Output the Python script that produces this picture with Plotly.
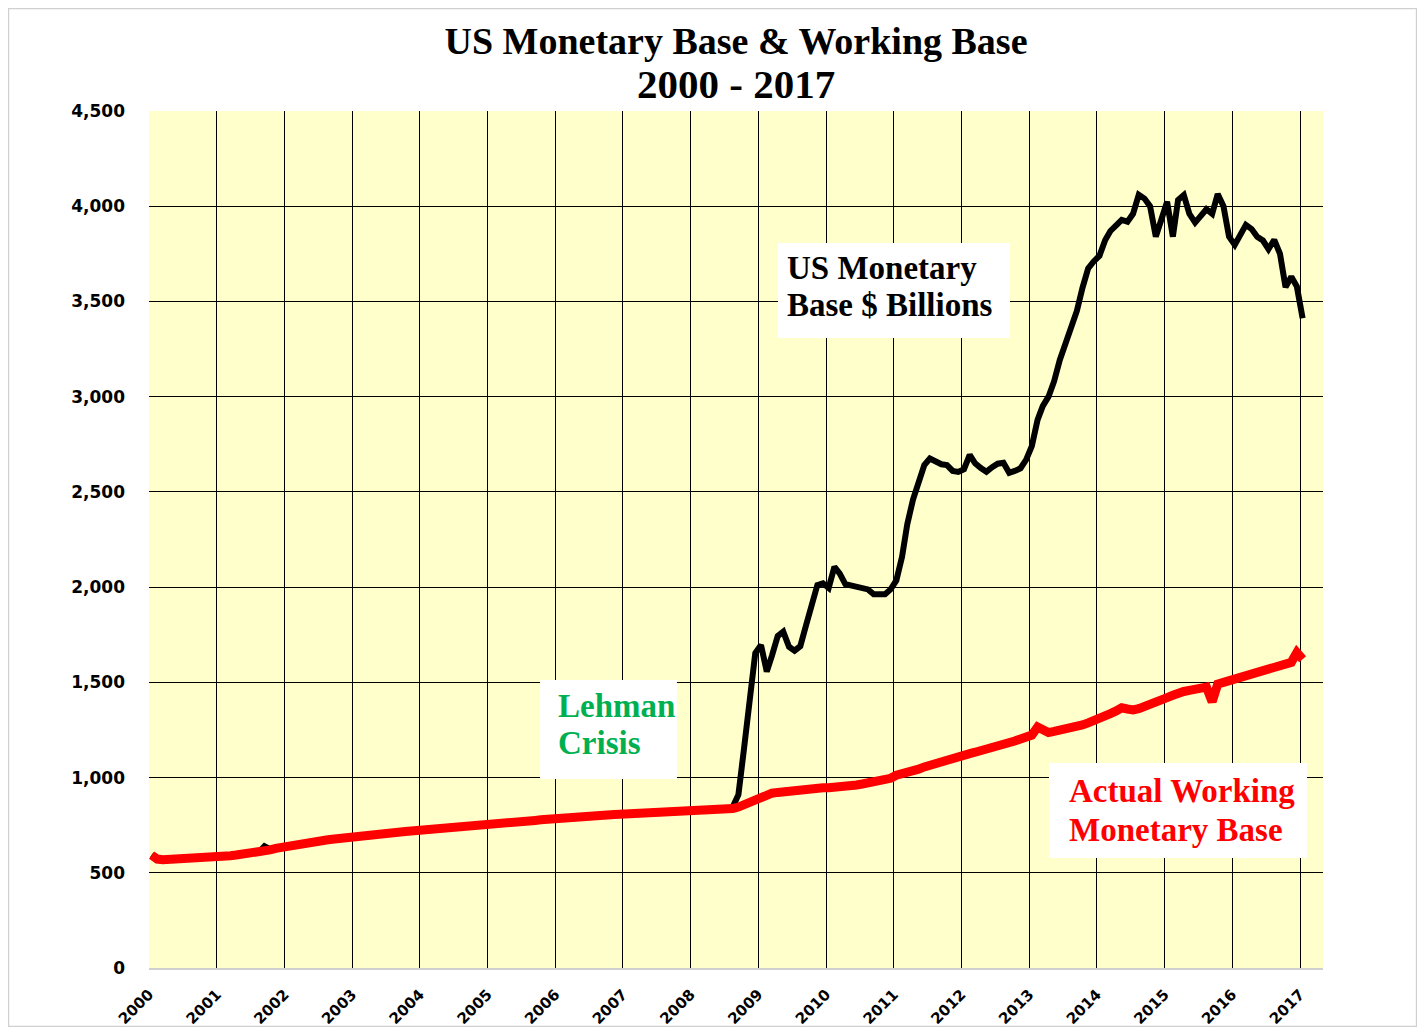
import pandas as pd
import plotly.graph_objects as go

# monthly values, Jan 2000 .. Jan 2017 ($ billions)
months = pd.date_range('2000-01-01', '2017-01-01', freq='MS') + pd.Timedelta(days=14)

monetary_base = [
    593, 572, 568, 569, 570, 571, 572, 574, 576, 578, 580, 582,          # 2000
    584, 587, 590, 593, 596, 600, 604, 608, 640, 624, 628, 634,          # 2001
    640, 645, 650, 655, 660, 664, 668, 672, 676, 680, 684, 688,          # 2002
    692, 695, 698, 701, 704, 707, 710, 713, 715, 717, 719, 721,          # 2003
    723, 725, 727, 729, 732, 735, 738, 741, 744, 747, 750, 753,          # 2004
    755, 757, 759, 761, 763, 766, 769, 772, 775, 778, 781, 784,          # 2005
    787, 789, 791, 793, 795, 797, 799, 801, 803, 804, 806, 807,          # 2006
    808, 809, 810, 811, 812, 813, 814, 815, 816, 818, 819, 820,          # 2007
    822, 823, 824, 826, 828, 830, 833, 845, 910, 1150, 1420, 1654,       # 2008
    1696, 1556, 1640, 1743, 1766, 1687, 1666, 1690, 1800, 1920, 2011, 2020,  # 2009
    1995, 2107, 2072, 2015, 2008, 1998, 1994, 1988, 1962, 1959, 1962, 1988,  # 2010
    2035, 2160, 2330, 2460, 2540, 2641, 2675, 2660, 2645, 2641, 2610, 2605,  # 2011
    2619, 2694, 2650, 2625, 2606, 2630, 2648, 2653, 2600, 2610, 2624, 2668,  # 2012
    2740, 2878, 2950, 3000, 3080, 3193, 3280, 3368, 3450, 3570, 3674, 3710,  # 2013
    3740, 3823, 3870, 3900, 3928, 3919, 3960, 4060, 4040, 4000, 3840, 3930,  # 2014
    4024, 3840, 4033, 4059, 3960, 3914, 3954, 3984, 3960, 4064, 4000, 3840,  # 2015
    3797, 3858, 3902, 3880, 3840, 3820, 3775, 3823, 3750, 3575, 3630, 3578,  # 2016
    3412,                                                                  # 2017
]

working_base = [
    593, 572, 568, 569, 570, 571, 572, 574, 576, 578, 580, 582,          # 2000
    584, 587, 590, 593, 596, 600, 604, 608, 613, 620, 628, 634,          # 2001
    640, 645, 650, 655, 660, 664, 668, 672, 676, 680, 684, 688,          # 2002
    692, 695, 698, 701, 704, 707, 710, 713, 715, 717, 719, 721,          # 2003
    723, 725, 727, 729, 732, 735, 738, 741, 744, 747, 750, 753,          # 2004
    755, 757, 759, 761, 763, 766, 769, 772, 775, 778, 781, 784,          # 2005
    787, 789, 791, 793, 795, 797, 799, 801, 803, 804, 806, 807,          # 2006
    808, 809, 810, 811, 812, 813, 814, 815, 816, 818, 819, 820,          # 2007
    822, 823, 824, 826, 828, 830, 833, 837, 845, 858, 875, 892,          # 2008
    905, 912, 918, 922, 926, 931, 936, 940, 942, 944, 945, 946,          # 2009
    947, 948, 951, 955, 958, 961, 966, 970, 974, 979, 987, 996,          # 2010
    1012, 1018, 1025, 1034, 1044, 1056, 1066, 1075, 1085, 1094, 1101, 1108,  # 2011
    1118, 1126, 1133, 1140, 1148, 1156, 1163, 1171, 1181, 1192, 1203, 1212,  # 2012
    1223, 1265, 1248, 1236, 1242, 1247, 1252, 1258, 1266, 1276, 1287, 1297,  # 2013
    1305, 1318, 1336, 1350, 1366, 1360, 1355, 1362, 1372, 1380, 1389, 1400,  # 2014
    1420, 1432, 1445, 1452, 1458, 1462, 1466, 1475, 1398, 1491, 1500, 1508,  # 2015
    1516, 1525, 1535, 1545, 1553, 1561, 1568, 1575, 1582, 1590, 1605, 1656,  # 2016
    1621,                                                                  # 2017
]

y_ticks = [0, 500, 1000, 1500, 2000, 2500, 3000, 3500, 4000, 4500]

fig = go.Figure()

fig.add_trace(go.Scatter(
    x=months, y=monetary_base, mode='lines',
    line=dict(color='black', width=6),
    name='US Monetary Base',
))
fig.add_trace(go.Scatter(
    x=months, y=working_base, mode='lines',
    line=dict(color='#ff0000', width=9),
    name='Actual Working Monetary Base',
))

text_font = dict(family='Liberation Serif', size=33)

# white label boxes behind the text
boxes = [
    (0.5358, 0.7351, 0.7334, 0.8460),
    (0.3331, 0.2205, 0.4497, 0.3361),
    (0.7666, 0.1284, 0.9864, 0.2392),
]
for x0, y0, x1, y1 in boxes:
    fig.add_shape(type='rect', xref='paper', yref='paper', x0=x0, y0=y0, x1=x1, y1=y1,
                  fillcolor='white', line=dict(width=0), layer='above')

# one annotation per text line (tighter line spacing than plotly's <br>)
labels = [
    ('US Monetary', 0.5417, 0.8168, 'black'),
    ('Base $ Billions', 0.5417, 0.7736, 'black'),
    ('Lehman', 0.3467, 0.3057, '#00b050'),
    ('Crisis', 0.3467, 0.2625, '#00b050'),
    ('Actual Working', 0.7819, 0.2065, '#ff0000'),
    ('Monetary Base', 0.7819, 0.1610, '#ff0000'),
]
for text, x, y, color in labels:
    fig.add_annotation(text=f'<b>{text}</b>', xref='paper', yref='paper', x=x, y=y,
                       xanchor='left', yanchor='middle', align='left',
                       showarrow=False, font=dict(color=color, **text_font))

# second title line
fig.add_annotation(text='<b>2000 - 2017</b>', xref='paper', yref='paper',
                   x=0.5, y=1.0315, xanchor='center', yanchor='middle', showarrow=False,
                   font=dict(family='Liberation Serif', size=41, color='black'))

# thin grey frame around the whole chart
fig.add_shape(type='rect', xref='paper', yref='paper',
              x0=-0.1197, y0=-0.0683, x1=1.0797, y1=1.1196,
              line=dict(color='#d0d0d0', width=1.5), fillcolor='rgba(0,0,0,0)')

fig.update_layout(
    width=1409, height=1019,
    margin=dict(l=141, r=94, t=103, b=59, autoexpand=False),
    paper_bgcolor='white',
    plot_bgcolor='#ffffcc',
    showlegend=False,
    title=dict(
        text='<b>US Monetary Base & Working Base</b>',
        x=0.5, xref='paper', xanchor='center',
        y=0.9676, yref='container', yanchor='middle',
        font=dict(family='Liberation Serif', size=38, color='black'),
    ),
)

fig.update_xaxes(
    type='date',
    range=['2000-01-01', '2017-05-05'],
    tick0='2000-01-01', dtick='M12', tickformat='%Y',
    tickangle=-45,
    tickfont=dict(family='DejaVu Sans', size=15, color='black', weight='bold'),
    ticklabelstandoff=10,
    automargin=False,
    showgrid=True, gridcolor='black', gridwidth=1,
    showline=True, linecolor='#d0d0d0', linewidth=1.5,
    ticks='', zeroline=False,
)
fig.update_yaxes(
    range=[0, 4500],
    tickvals=y_ticks,
    tickformat=',',
    tickfont=dict(family='DejaVu Sans', size=17, color='black', weight='bold'),
    ticklabelstandoff=23,
    automargin=False,
    showgrid=True, gridcolor='black', gridwidth=1,
    zeroline=False, ticks='',
)

fig.write_html('out.html')
